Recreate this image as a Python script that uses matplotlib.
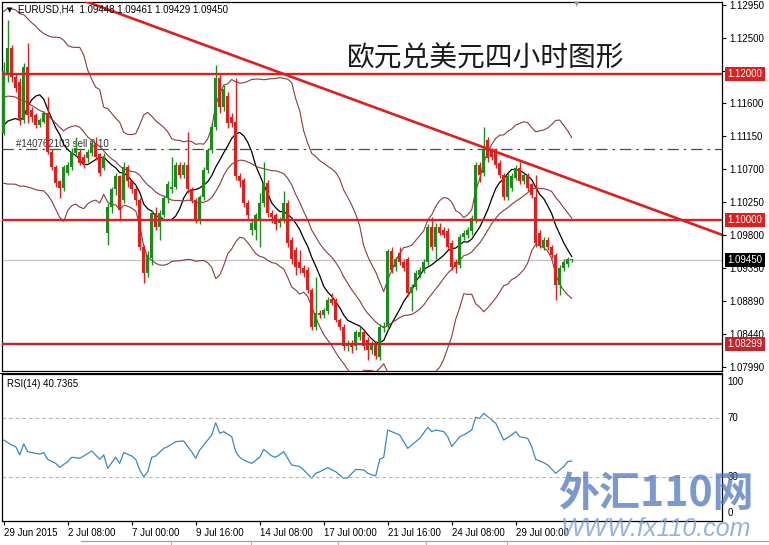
import numpy as np
import pandas as pd
import matplotlib
matplotlib.use('Agg')
import matplotlib.pyplot as plt
from matplotlib.lines import Line2D
from matplotlib.transforms import blended_transform_factory

plt.rcParams['font.family'] = ['Liberation Sans', 'DejaVu Sans']

# EURUSD H4, 29 Jun 2015 16:00 onwards (one entry per bar)
opens = [1.1120, 1.1199, 1.1236, 1.1196, 1.1190, 1.1137, 1.1210, 1.1151, 1.1144, 1.1131,
         1.1135, 1.1147, 1.1094, 1.1073, 1.1053, 1.1044, 1.1065, 1.1073, 1.1092, 1.1094,
         1.1087, 1.1085, 1.1092, 1.1106, 1.1090, 1.1072, 1.0983, 1.1018, 1.1042, 1.1060,
         1.1028, 1.1073, 1.1053, 1.1042, 1.1028, 1.0963, 1.0928, 1.0948, 1.1010, 1.0991,
         1.1007, 1.1031, 1.1042, 1.1046, 1.1076, 1.1062, 1.1076, 1.1042, 1.1028, 1.1000,
         1.1032, 1.1069, 1.1096, 1.1128, 1.1195, 1.1155, 1.1170, 1.1141, 1.1135, 1.1060,
         1.1055, 1.1024, 1.0987, 1.0987, 1.1000, 1.1024, 1.1051, 1.1010, 1.1007, 1.0996,
         1.1000, 1.1024, 1.0973, 1.0959, 1.0943, 1.0935, 1.0932, 1.0904, 1.0854, 1.0873,
         1.0870, 1.0875, 1.0892, 1.0890, 1.0863, 1.0854, 1.0827, 1.0832, 1.0827, 1.0840,
         1.0846, 1.0836, 1.0822, 1.0829, 1.0812, 1.0853, 1.0855, 1.0957, 1.0936, 1.0955,
         1.0942, 1.0946, 1.0900, 1.0908, 1.0925, 1.0932, 1.0942, 1.0991, 1.0963, 1.0991,
         1.0987, 1.0985, 1.0969, 1.0942, 1.0939, 1.0977, 1.0980, 1.0985, 1.1000, 1.1076,
         1.1065, 1.1110, 1.1096, 1.1094, 1.1079, 1.1062, 1.1032, 1.1044, 1.1058, 1.1072,
         1.1053, 1.1062, 1.1049, 1.1032, 1.0983, 1.0963, 1.0973, 1.0963, 1.0952, 1.0911,
         1.0935, 1.0940, 1.09448]
highs = [1.1217, 1.1275, 1.1240, 1.1200, 1.1195, 1.1215, 1.1243, 1.1155, 1.1147, 1.1140,
         1.1150, 1.1169, 1.1097, 1.1076, 1.1055, 1.1076, 1.1080, 1.1099, 1.1114, 1.1097,
         1.1090, 1.1097, 1.1110, 1.1114, 1.1092, 1.1092, 1.1024, 1.1046, 1.1065, 1.1062,
         1.1080, 1.1076, 1.1055, 1.1046, 1.1031, 1.0966, 1.0957, 1.1014, 1.1018, 1.1014,
         1.1035, 1.1053, 1.1087, 1.1080, 1.1080, 1.1080, 1.1121, 1.1046, 1.1031, 1.1035,
         1.1073, 1.1099, 1.1133, 1.1213, 1.1199, 1.1185, 1.1175, 1.1147, 1.1195, 1.1065,
         1.1058, 1.1028, 1.1000, 1.1010, 1.1037, 1.1080, 1.1055, 1.1014, 1.1010, 1.1004,
         1.1040, 1.1028, 1.0977, 1.0963, 1.0959, 1.0939, 1.0936, 1.0907, 1.0922, 1.0877,
         1.0880, 1.0895, 1.0900, 1.0893, 1.0866, 1.0857, 1.0836, 1.0836, 1.0850, 1.0853,
         1.0850, 1.0840, 1.0834, 1.0834, 1.0857, 1.0860, 1.0961, 1.0963, 1.0950, 1.0963,
         1.0946, 1.0950, 1.0912, 1.0932, 1.0936, 1.0946, 1.0995, 1.1004, 1.0996, 1.0996,
         1.0991, 1.0989, 1.0973, 1.0946, 1.0981, 1.0987, 1.0991, 1.1007, 1.1080, 1.1080,
         1.1128, 1.1114, 1.1099, 1.1099, 1.1083, 1.1065, 1.1064, 1.1064, 1.1076, 1.1080,
         1.1065, 1.1065, 1.1051, 1.1062, 1.0987, 1.0977, 1.0977, 1.0966, 1.0955, 1.0939,
         1.0946, 1.0950, 1.09461]
lows = [1.1117, 1.1190, 1.1190, 1.1175, 1.1130, 1.1133, 1.1133, 1.1135, 1.1126, 1.1128,
        1.1133, 1.1090, 1.1069, 1.1046, 1.1031, 1.1040, 1.1062, 1.1069, 1.1088, 1.1075,
        1.1072, 1.1080, 1.1088, 1.1083, 1.1060, 1.1069, 1.0966, 1.1010, 1.1035, 1.1000,
        1.1024, 1.1046, 1.1037, 1.1021, 1.0959, 1.0914, 1.0922, 1.0939, 1.0987, 1.0973,
        1.1004, 1.1024, 1.1037, 1.1042, 1.1058, 1.1058, 1.1037, 1.1024, 1.0996, 1.0994,
        1.1028, 1.1065, 1.1092, 1.1124, 1.1147, 1.1150, 1.1126, 1.1128, 1.1055, 1.1046,
        1.1018, 1.1000, 1.0980, 1.0973, 1.0963, 1.1018, 1.1004, 1.0996, 1.0987, 1.0991,
        1.0996, 1.0963, 1.0940, 1.0925, 1.0928, 1.0922, 1.0900, 1.0850, 1.0850, 1.0866,
        1.0866, 1.0871, 1.0883, 1.0860, 1.0850, 1.0822, 1.0820, 1.0818, 1.0822, 1.0836,
        1.0822, 1.0808, 1.0816, 1.0810, 1.0808, 1.0846, 1.0850, 1.0928, 1.0930, 1.0938,
        1.0930, 1.0896, 1.0876, 1.0904, 1.0921, 1.0928, 1.0938, 1.0959, 1.0946, 1.0979,
        1.0976, 1.0959, 1.0932, 1.0928, 1.0935, 1.0973, 1.0976, 1.0980, 1.0996, 1.1052,
        1.1060, 1.1080, 1.1083, 1.1072, 1.1058, 1.1028, 1.1028, 1.1040, 1.1055, 1.1049,
        1.1049, 1.1040, 1.1031, 1.0963, 1.0962, 1.0959, 1.0959, 1.0948, 1.0890, 1.0897,
        1.0930, 1.0936, 1.09429]
closes = [1.1205, 1.1236, 1.1196, 1.1181, 1.1137, 1.1210, 1.1144, 1.1141, 1.1131, 1.1137,
          1.1147, 1.1094, 1.1073, 1.1051, 1.1044, 1.1073, 1.1076, 1.1094, 1.1099, 1.1079,
          1.1079, 1.1094, 1.1106, 1.1087, 1.1065, 1.1087, 1.1018, 1.1042, 1.1060, 1.1014,
          1.1073, 1.1053, 1.1042, 1.1028, 1.0963, 1.0928, 1.0952, 1.1010, 1.0991, 1.1010,
          1.1031, 1.1049, 1.1046, 1.1076, 1.1062, 1.1076, 1.1042, 1.1028, 1.1000, 1.1032,
          1.1069, 1.1096, 1.1128, 1.1195, 1.1155, 1.1180, 1.1133, 1.1133, 1.1060, 1.1053,
          1.1024, 1.1007, 1.0996, 1.1007, 1.1024, 1.1051, 1.1010, 1.1004, 1.0994, 1.1000,
          1.1024, 1.0969, 1.0946, 1.0936, 1.0935, 1.0928, 1.0904, 1.0854, 1.0873, 1.0870,
          1.0877, 1.0890, 1.0887, 1.0863, 1.0854, 1.0827, 1.0832, 1.0826, 1.0846, 1.0846,
          1.0827, 1.0822, 1.0829, 1.0814, 1.0853, 1.0855, 1.0957, 1.0932, 1.0946, 1.0942,
          1.0935, 1.0900, 1.0908, 1.0928, 1.0932, 1.0942, 1.0991, 1.0963, 1.0991, 1.0983,
          1.0980, 1.0963, 1.0936, 1.0936, 1.0977, 1.0983, 1.0987, 1.1003, 1.1076, 1.1062,
          1.1096, 1.1085, 1.1087, 1.1076, 1.1062, 1.1032, 1.1060, 1.1060, 1.1072, 1.1053,
          1.1062, 1.1044, 1.1035, 1.0969, 1.0966, 1.0973, 1.0963, 1.0952, 1.0911, 1.0935,
          1.0942, 1.0946, 1.0945]
# closes before the visible window, only used to warm up MA(10) / Bands(20)
prior_closes = [1.1200, 1.1205, 1.1200, 1.1215, 1.1220, 1.1215, 1.1210, 1.1200, 1.1205, 1.1195,
                1.1180, 1.1175, 1.1165, 1.1160, 1.1165, 1.1000, 1.1050, 1.1080, 1.1120]

# RSI(14)
rsi_bars = [0, 2, 3, 4, 5, 6, 8, 9, 10, 11,
            13, 14, 16, 17, 19, 20, 22, 24, 25, 26,
            27, 28, 29, 30, 32, 33, 34, 35, 36, 37,
            38, 40, 41, 43, 45, 46, 47, 48, 49, 51,
            52, 53, 54, 55, 57, 58, 59, 60, 62, 64,
            65, 67, 68, 70, 72, 73, 74, 75, 77, 78,
            79, 81, 83, 84, 85, 86, 88, 90, 91, 93,
            94, 95, 96, 98, 99, 101, 103, 104, 106, 107,
            108, 110, 111, 112, 114, 115, 117, 118, 119, 120,
            122, 123, 124, 125, 127, 128, 129, 131, 132, 133,
            135, 136, 138, 140, 141, 142]
rsi_vals = [55.1, 51.7, 50.6, 44.9, 52.4, 47.1, 46.0, 45.5, 46.5, 41.9,
            39.1, 36.4, 40.3, 43.3, 42.6, 44.2, 47.6, 41.9, 44.9, 35.7,
            39.6, 43.3, 39.1, 46.5, 44.2, 41.9, 34.6, 30.0, 33.4, 43.3,
            44.2, 49.4, 50.6, 54.0, 54.5, 50.6, 47.1, 42.6, 48.3, 55.1,
            58.6, 67.0, 59.7, 60.9, 57.4, 47.1, 43.3, 41.4, 39.1, 43.3,
            48.7, 44.2, 43.3, 47.1, 38.0, 37.5, 36.9, 34.6, 28.9, 32.3,
            33.4, 36.2, 33.4, 31.1, 28.9, 29.3, 35.0, 34.6, 32.3, 30.5,
            41.9, 43.3, 62.0, 59.7, 58.6, 49.4, 54.0, 56.3, 63.8, 60.9,
            62.0, 60.9, 57.4, 50.6, 57.4, 58.6, 62.0, 70.7, 70.0, 73.4,
            68.9, 66.6, 60.9, 55.1, 58.6, 60.9, 57.4, 56.3, 50.6, 41.9,
            39.6, 38.0, 32.3, 36.9, 40.3, 40.74]

price_ticks = [1.12950, 1.12500, 1.12050, 1.11600, 1.11150, 1.10700,
               1.10250, 1.09800, 1.09350, 1.08890, 1.08440, 1.07990]
level_lines = [1.12000, 1.10000, 1.08299]
trend_bars = [20, 180]
trend_prices = [1.1301, 1.0979]
order_price = 1.1098
last_price = 1.09450
time_bars = [0, 16, 32, 48, 64, 80, 96, 112, 128]
time_labels = ['29 Jun 2015', '2 Jul 08:00', '7 Jul 00:00', '9 Jul 16:00', '14 Jul 08:00',
               '17 Jul 00:00', '21 Jul 16:00', '24 Jul 08:00', '29 Jul 00:00']

GREEN = '#1e8a1e'
RED = '#dc1f1f'
DARKRED = '#c0262b'
BAND = '#8a3b3b'

W, H = 769, 545
fig = plt.figure(figsize=(W / 100, H / 100), dpi=100)


def px_box(x0, y0, x1, y1):
    return [x0 / W, 1 - y1 / H, (x1 - x0) / W, (y1 - y0) / H]


ax = fig.add_axes(px_box(2, 2, 722, 371))
ar = fig.add_axes(px_box(2, 374, 722, 521))

# ---- candles
o = np.array(opens)
h = np.array(highs)
l = np.array(lows)
c = np.array(closes)
idx = np.arange(len(c))
col = np.where(c >= o, GREEN, RED)
ax.vlines(idx, l, h, colors=col, lw=1.0, zorder=4)
ax.bar(idx, np.maximum(np.abs(c - o), 0.00012), bottom=np.minimum(o, c),
       width=0.72, color=col, lw=0, zorder=4)

# ---- MA(10) and Bollinger(20, 2)
allc = pd.Series(prior_closes + closes)
n0 = len(prior_closes)
ma10 = allc.rolling(10).mean().to_numpy()[n0:]
mid = allc.rolling(20).mean().to_numpy()[n0:]
sd = allc.rolling(20).std(ddof=0).to_numpy()[n0:]
ax.plot(idx, ma10, color='black', lw=0.9, zorder=3)
for band in (mid, mid + 2 * sd, mid - 2 * sd):
    ax.plot(idx, band, color=BAND, lw=0.8, zorder=3)

# ---- lines drawn on the chart
ax.axhline(last_price, color='#c4c4c4', lw=0.9, zorder=1)
ax.axhline(order_price, color='#1d6b1d', lw=0.9, ls=(0, (9, 4, 2, 4)), zorder=2)
ax.text(3, order_price, '#140762103 sell 0.10', fontsize=7, color='#333333',
        va='bottom', ha='left', zorder=2)
for lv in level_lines:
    ax.axhline(lv, color=RED if lv > 1.09 else DARKRED, lw=1.7, zorder=5)
ax.plot(trend_bars, trend_prices, color=RED, lw=1.9, zorder=5, solid_capstyle='butt')

ax.set_xlim(-0.43, 179.57)
ax.set_ylim(1.07931, 1.12991)
ax.set_xticks([])
ax.yaxis.tick_right()
ax.set_yticks(price_ticks)
ax.set_yticklabels([f'{p:.5f}' for p in price_ticks])
ax.tick_params(axis='y', length=3, width=0.8, pad=2, labelsize=7)
for s in ax.spines.values():
    s.set_linewidth(0.9)

# highlighted price labels
ytr = blended_transform_factory(ax.transAxes, ax.transData)
for p, bg in [(1.12000, RED), (1.10000, RED), (1.08299, DARKRED), (last_price, 'black')]:
    ax.annotate(f'{p:.5f}', xy=(1, p), xycoords=ytr, xytext=(4, 0), textcoords='offset points',
                fontsize=7, color='white', va='center', ha='left', annotation_clip=False,
                bbox=dict(boxstyle='square,pad=0.22', fc=bg, ec='none'), zorder=10)

# ---- RSI window
ar.plot(rsi_bars, rsi_vals, color='#3a88c0', lw=0.9)
for lv in (70, 30):
    ar.axhline(lv, color='#b4b4b4', lw=0.8, ls=(0, (3, 3)))
ar.set_xlim(-0.43, 179.57)
ar.set_ylim(-0.4, 100.4)
ar.set_yticks([])
ar.set_xticks(time_bars)
ar.set_xticklabels(time_labels)
ar.tick_params(axis='x', length=3, width=0.8, pad=2, labelsize=7)
for t in ar.get_xticklabels():
    t.set_horizontalalignment('left')
for s in ar.spines.values():
    s.set_linewidth(0.9)
rtr = blended_transform_factory(ar.transAxes, ar.transData)
for v, va, dy in [(100, 'top', -2), (70, 'center', 0), (30, 'center', 0), (0, 'bottom', 2)]:
    ar.annotate(str(v), xy=(1, v), xycoords=rtr, xytext=(4, dy), textcoords='offset points',
                fontsize=7, va=va, ha='left', annotation_clip=False)
ar.text(0.007, 0.93, 'RSI(14) 40.7365', transform=ar.transAxes, fontsize=7, va='center')

# separator between the two windows
fig.add_artist(Line2D([0, 722 / W], [1 - 372.5 / H] * 2, color='black', lw=0.7))

# ---- header, title, markers
fig.text(7 / W, 1 - 10 / H, '▼', fontsize=5, va='center', family=['DejaVu Sans'])
fig.text(18 / W, 1 - 9.5 / H, 'EURUSD,H4  1.09448 1.09461 1.09429 1.09450', fontsize=7, va='center')
fig.text(577 / W, 1 - 4 / H, '▼', fontsize=5, va='center', ha='center', color='#9a9a9a',
         family=['DejaVu Sans'])
fig.text(347 / W, 1 - 58 / H, '欧元兑美元四小时图形', fontsize=20, va='center', ha='left',
         color='#1a1a1a', family=['Noto Sans CJK SC', 'DejaVu Sans'], fontweight='light')

# ---- watermark
fig.text(558 / W, 1 - 494 / H, '外汇110网', fontsize=29.5, fontweight='bold', color='#4a72bd',
         alpha=0.72, va='center', ha='left', family=['Noto Sans CJK SC', 'DejaVu Sans'])
fig.text(561 / W, 1 - 529 / H, 'WWW.fx110.com', fontsize=18, color='#7d9ed8', alpha=0.8,
         va='center', ha='left', style='italic')

# ---- bottom tab bar
fig.add_artist(Line2D([81 / W, 1], [1 - 541 / H] * 2, color='#9a9a9a', lw=0.8))
for xs in (171, 251, 338, 426, 507):
    fig.add_artist(Line2D([xs / W] * 2, [1 - 541 / H, 0], color='#b0b0b0', lw=0.8))

fig.savefig('out.png', dpi=100)
